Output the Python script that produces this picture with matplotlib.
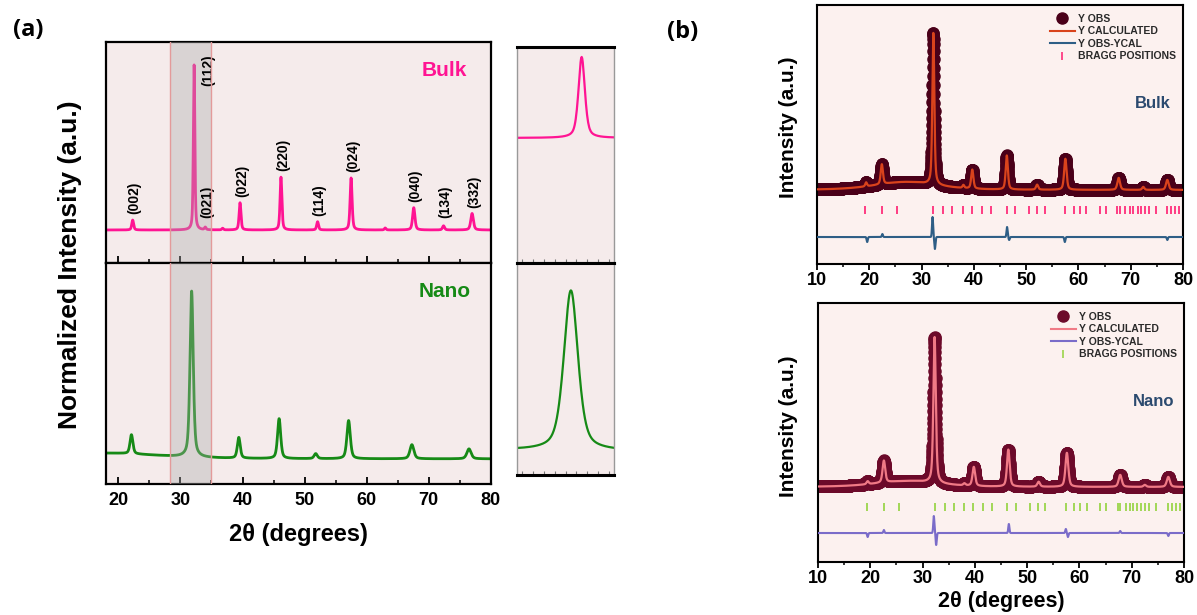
import numpy as np
import matplotlib.pyplot as plt
from matplotlib.lines import Line2D
from matplotlib.ticker import MultipleLocator

plt.rcParams['font.family'] = ['Liberation Sans', 'DejaVu Sans']
plt.rcParams['font.weight'] = 'bold'

# ---------------- (a) normalized XRD ----------------
bulk_pos = [22.3, 32.2, 34.0, 36.8, 39.6, 46.2, 52.1, 57.5, 63.0, 67.6, 72.4, 77.0]
bulk_amp = [0.06, 1.00, 0.015, 0.01, 0.165, 0.32, 0.05, 0.315, 0.012, 0.135, 0.025, 0.10]
bulk_fwhm = [0.35, 0.28, 0.3, 0.3, 0.35, 0.35, 0.35, 0.38, 0.3, 0.45, 0.4, 0.5]

nano_pos = [18.0, 22.1, 31.8, 39.4, 45.9, 51.8, 57.1, 67.3, 76.5]
nano_amp = [0.035, 0.115, 1.00, 0.125, 0.24, 0.03, 0.23, 0.085, 0.06]
nano_fwhm = [20.0, 0.55, 0.62, 0.55, 0.6, 0.6, 0.65, 0.75, 0.8]

hkl_labels = ['(002)', '(112)', '(021)', '(022)', '(220)', '(114)', '(024)', '(040)', '(134)', '(332)']
hkl_pos = [22.3, 32.2, 34.0, 39.6, 46.2, 52.1, 57.5, 67.6, 72.4, 77.0]

# ---------------- (b) Rietveld refinement ----------------
ref_bulk_pos = [19.4, 22.4, 27.0, 32.25, 38.0, 39.7, 46.3, 52.1, 57.5, 67.7, 72.4, 77.0]
ref_bulk_amp = [4, 20, 8, 152, 3, 19, 34, 5, 31, 12, 3, 10]
ref_bulk_fwhm = [0.4, 0.5, 14, 0.45, 0.4, 0.5, 0.5, 0.5, 0.55, 0.6, 0.5, 0.6]
ref_bulk_base = 74
bragg_bulk = [19.2, 22.4, 25.3, 32.2, 34.1, 35.9, 37.9, 39.7, 41.5, 43.3, 46.3, 47.8,
              50.6, 52.1, 53.7, 57.5, 59.1, 60.3, 61.5, 64.1, 65.2, 67.4, 67.9, 69.0,
              69.9, 70.5, 71.3, 71.9, 72.8, 73.5, 74.8, 76.9, 77.7, 78.5, 79.3]
diff_bulk_pos = [19.6, 22.5, 32.1, 32.55, 46.35, 46.75, 57.4, 77.0]
diff_bulk_amp = [-5, 3, 20, -12, 10, -3, -5, -3]
diff_bulk_base = 27

ref_nano_pos = [19.5, 22.6, 27.0, 32.3, 38.0, 39.8, 46.4, 52.2, 57.6, 67.8, 72.5, 77.0]
ref_nano_amp = [3, 22, 6, 146, 2, 19, 37, 5, 34, 12, 2, 10]
ref_nano_fwhm = [0.5, 0.6, 14, 0.55, 0.5, 0.6, 0.6, 0.6, 0.65, 0.7, 0.6, 0.7]
ref_nano_base = 75
bragg_nano = [19.4, 22.6, 25.4, 32.3, 34.3, 36.1, 37.9, 39.7, 41.5, 43.2, 46.2, 47.9,
              50.6, 52.0, 53.5, 57.5, 59.0, 60.1, 61.4, 63.9, 65.1, 67.3, 67.8, 68.9,
              69.7, 70.3, 71.1, 71.7, 72.6, 73.4, 74.6, 76.9, 77.7, 78.5, 79.2]
diff_nano_pos = [19.5, 22.6, 32.15, 32.6, 46.5, 57.4, 57.8, 67.8, 77.0]
diff_nano_amp = [-4, 3, 17, -12, 9, 4, -4, 2, -3]
diff_nano_base = 29


def profile(x, pos, amp, fwhm, eta=0.5):
    y = np.zeros_like(x)
    for p, a, w in zip(pos, amp, fwhm):
        d = 4 * (x - p) ** 2 / w ** 2
        y += a * (eta / (1 + d) + (1 - eta) * np.exp(-np.log(2) * d))
    return y


def spikes(x, pos, amp, w=0.25):
    y = np.zeros_like(x)
    for p, a in zip(pos, amp):
        y += a * np.exp(-4 * np.log(2) * (x - p) ** 2 / w ** 2)
    return y


W, H = 1197, 615


def box(l, t, r, b):
    return [l / W, 1 - b / H, (r - l) / W, (b - t) / H]


fig = plt.figure(figsize=(W / 100, H / 100), dpi=100)

pink = '#FF1493'
green = '#168A16'
bg_a = '#F5EBEB'

xa = np.arange(18, 80.001, 0.02)
y_bulk = profile(xa, bulk_pos, bulk_amp, bulk_fwhm)
y_nano = profile(xa, nano_pos, nano_amp, nano_fwhm)

ax1 = fig.add_axes(box(106, 42, 490.7, 263))
ax2 = fig.add_axes(box(106, 263, 490.7, 484))
for ax, y, c, lim, name in [(ax1, y_bulk, pink, (-0.2, 1.139), 'Bulk'),
                            (ax2, y_nano, green, (-0.151, 1.18), 'Nano')]:
    ax.set_facecolor(bg_a)
    ax.plot(xa, y, color=c, lw=2)
    ax.axvspan(28.3, 35.0, facecolor='#AAAAAA', alpha=0.37, edgecolor='none', zorder=3)
    for xv in (28.3, 35.0):
        ax.axvline(xv, color='#E39A9A', lw=1, zorder=4)
    ax.set_xlim(18, 80)
    ax.set_ylim(*lim)
    ax.set_yticks([])
    ax.xaxis.set_major_locator(MultipleLocator(10))
    ax.xaxis.set_minor_locator(MultipleLocator(5))
    ax.tick_params(axis='x', which='major', direction='in', length=5, width=1.3, labelsize=13, pad=6)
    ax.tick_params(axis='x', which='minor', direction='in', length=3, width=1.1)
    for s in ax.spines.values():
        s.set_linewidth(1.6)
    ax.text(0.88, 0.87, name, transform=ax.transAxes, color=c, fontsize=15,
            fontweight='bold', ha='center', va='center')
ax1.tick_params(axis='x', labelbottom=False)

for lab, p in zip(hkl_labels, hkl_pos):
    h = np.interp(p, xa, y_bulk)
    xl, yl = p + 0.3, max(h + 0.035, 0.07)
    if lab == '(112)':
        xl, yl = p + 2.3, 0.87
    ax1.text(xl, yl, lab, rotation=90, ha='center', va='bottom', fontsize=10, fontweight='bold')

# insets around the (112) peak
in1 = fig.add_axes(box(517, 47, 614, 263))
in2 = fig.add_axes(box(517, 263, 614, 475))
for ax, y, c, lim in [(in1, y_bulk, pink, (-1.544, 1.123)), (in2, y_nano, green, (-0.143, 1.182))]:
    ax.set_facecolor(bg_a)
    ax.plot(xa, y, color=c, lw=1.6)
    ax.set_xlim(29.8, 33.4)
    ax.set_ylim(*lim)
    ax.set_yticks([])
    ax.xaxis.set_major_locator(MultipleLocator(0.4))
    ax.tick_params(axis='x', direction='in', length=3, width=0.8, color='#777777', labelbottom=False)
    for k in ('left', 'right'):
        ax.spines[k].set_color('#999999')
        ax.spines[k].set_linewidth(1)
    for k in ('top', 'bottom'):
        ax.spines[k].set_linewidth(2.2)

fig.text(70 / W, 1 - 265 / H, 'Normalized Intensity (a.u.)', rotation=90, ha='center', va='center',
         fontsize=19, fontweight='bold')
fig.text(298 / W, 1 - 535 / H, '2θ (degrees)', ha='center', va='center',
         fontsize=17, fontweight='bold')
fig.text(28 / W, 1 - 30 / H, '(a)', ha='center', va='center', fontsize=17, fontweight='bold',
         family=['Open Sans', 'DejaVu Sans'])
fig.text(683 / W, 1 - 32 / H, '(b)', ha='center', va='center', fontsize=17, fontweight='bold',
         family=['Open Sans', 'DejaVu Sans'])

# ---------------- (b) panels ----------------
bg_b = '#FCF1EF'
xb = np.arange(10, 80.001, 0.02)
panels = [
    (box(817, 5, 1183, 264), ref_bulk_pos, ref_bulk_amp, ref_bulk_fwhm, ref_bulk_base,
     bragg_bulk, diff_bulk_pos, diff_bulk_amp, diff_bulk_base, 54,
     '#4A0019', '#D9431C', '#2E5E86', '#FF2D7A', 'Bulk', 127),
    (box(818, 303, 1184, 562), ref_nano_pos, ref_nano_amp, ref_nano_fwhm, ref_nano_base,
     bragg_nano, diff_nano_pos, diff_nano_amp, diff_nano_base, 55,
     '#6C0A2A', '#F07A86', '#7A6CC9', '#9BD54A', 'Nano', 426),
]
for (rect, pos, amp, fw, base, bragg, dpos, damp, dbase, brow,
     c_obs, c_calc, c_diff, c_bragg, name, ylab_y) in panels:
    ax = fig.add_axes(rect)
    ax.set_facecolor(bg_b)
    yb = base + profile(xb, pos, amp, fw)
    ax.plot(xb, yb, 'o', ms=8, color=c_obs, mec=c_obs, zorder=2)
    ax.plot(xb, yb, color=c_calc, lw=1.6, zorder=3)
    ax.plot(bragg, np.full(len(bragg), brow), '|', ms=6, mew=1.3, color=c_bragg, zorder=3)
    ax.plot(xb, dbase + spikes(xb, dpos, damp), color=c_diff, lw=1.5, zorder=3)
    ax.set_xlim(10, 80)
    ax.set_ylim(0, 259)
    ax.set_yticks([])
    ax.xaxis.set_major_locator(MultipleLocator(10))
    ax.xaxis.set_minor_locator(MultipleLocator(5))
    ax.tick_params(axis='x', which='major', direction='out', length=4, width=1.3, labelsize=13, pad=2)
    ax.tick_params(axis='x', which='minor', direction='out', length=2.5, width=1.1)
    for s in ax.spines.values():
        s.set_linewidth(1.5)
    ax.text(0.918, 0.62, name, transform=ax.transAxes, color='#2B4A6F', fontsize=12,
            fontweight='bold', ha='center', va='center')
    handles = [Line2D([], [], ls='none', marker='o', ms=8, color=c_obs),
               Line2D([], [], color=c_calc, lw=1.5),
               Line2D([], [], color=c_diff, lw=1.5),
               Line2D([], [], ls='none', marker='|', ms=6, mew=1.2, color=c_bragg)]
    ax.legend(handles, ['Y OBS', 'Y CALCULATED', 'Y OBS-YCAL', 'BRAGG POSITIONS'],
              loc='upper right', bbox_to_anchor=(1.0, 0.995), frameon=False,
              prop={'size': 7.5, 'weight': 'bold'}, labelcolor='#2a2a2a',
              handlelength=2.4, handletextpad=0.3, labelspacing=0.25, borderaxespad=0.3)
    fig.text(788 / W, 1 - ylab_y / H, 'Intensity (a.u.)', rotation=90, ha='center', va='center',
             fontsize=15, fontweight='bold')

fig.text(1001 / W, 1 - 601 / H, '2θ (degrees)', ha='center', va='center',
         fontsize=15.5, fontweight='bold')

fig.savefig('out.png', dpi=100)
